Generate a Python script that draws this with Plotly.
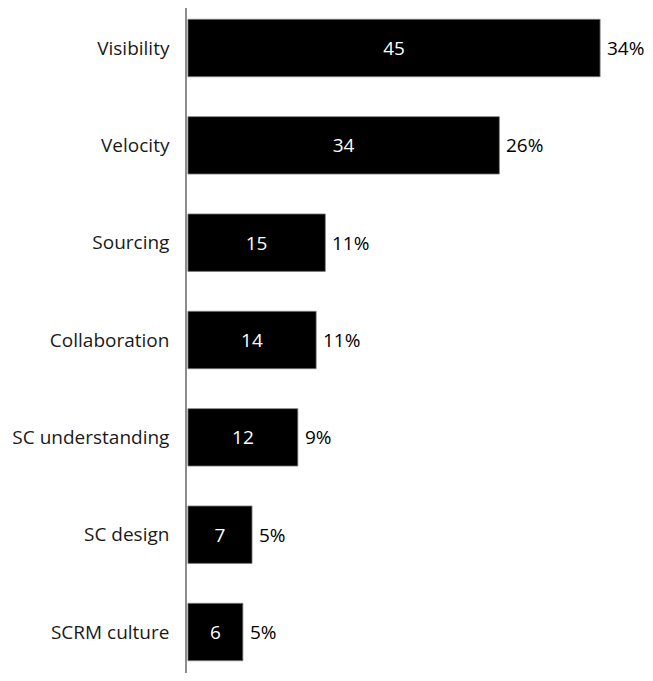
import plotly.graph_objects as go

categories = ["Visibility", "Velocity", "Sourcing", "Collaboration", "SC understanding", "SC design", "SCRM culture"]
counts = [45, 34, 15, 14, 12, 7, 6]
percents = ["34%", "26%", "11%", "11%", "9%", "5%", "5%"]

font_family = "Open Sans, Noto Sans, sans-serif"
fs = 19

fig = go.Figure()
fig.add_trace(go.Bar(
    y=categories,
    x=counts,
    orientation="h",
    marker=dict(color="black", line=dict(color="#7f7f7f", width=0.8)),
    text=[str(c) for c in counts],
    textposition="inside",
    insidetextanchor="middle",
    textfont=dict(color="white", size=fs, family=font_family),
    width=0.59,
    hoverinfo="skip",
))

for cat, c, p in zip(categories, counts, percents):
    fig.add_annotation(
        x=c, y=cat, text=p, showarrow=False,
        xanchor="left", xshift=5,
        font=dict(color="black", size=fs, family=font_family),
    )

fig.update_layout(
    width=637, height=665,
    margin=dict(l=179, r=0, t=0, b=0, autoexpand=False),
    paper_bgcolor="white", plot_bgcolor="white",
    showlegend=False,
    font=dict(family=font_family, size=fs, color="black"),
    xaxis=dict(range=[-0.1, 49.9], showgrid=False, zeroline=False,
               showticklabels=False, showline=False, fixedrange=True,
               automargin=False),
    yaxis=dict(categoryorder="array", categoryarray=categories[::-1],
               autorange=False, range=[-0.421, 6.411], automargin=False,
               showgrid=False, zeroline=False, showline=True,
               linecolor="#8c8c8c", linewidth=1.5, ticks="",
               ticklabelstandoff=12,
               tickfont=dict(size=fs, color="#1a1a1a", family=font_family)),
)

fig.write_html("out.html")
